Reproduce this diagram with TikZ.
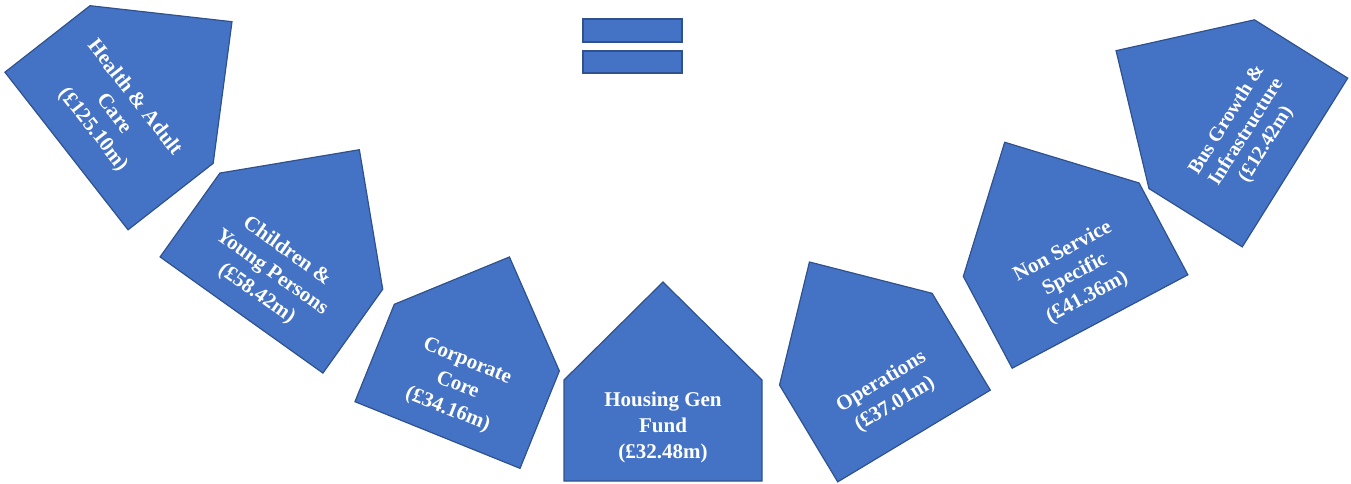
\documentclass[tikz,border=0pt]{standalone}
\usepackage{fontspec}
\setmainfont{Liberation Serif}
\usepackage{tikz}
\usetikzlibrary{positioning, calc}
\usepackage{xcolor}
\definecolor{houseblue}{HTML}{4472C4}
\definecolor{houseedge}{HTML}{2F528F}

\begin{document}
\begin{tikzpicture}[x=1pt, y=1pt,
    house/.style={fill=houseblue, draw=houseedge, line width=1.2pt, line join=miter},
    tag/.style={text=white, font=\bfseries\fontsize{21}{26}\selectfont, align=center, inner sep=0pt, transform shape}]
      \useasboundingbox (0, 0) rectangle (1351, 483);

      % equals sign
      \draw[house] (583, 441) rectangle (682, 464);
      \draw[house] (583, 410) rectangle (682, 432);

      % left side
      \begin{scope}[shift={(66.5, 332)}, rotate=-52]
        \draw[house] (-100, 0) -- (-100, 108) -- (0, 210) -- (100, 108) -- (100, 0) -- cycle;
        \node[tag] (health) at (0, 60) {Health \& Adult\\Care\\(£125.10m)};
      \end{scope}

      \begin{scope}[shift={(241.5, 168)}, rotate=-35.5]
        \draw[house] (-100, 0) -- (-100, 103) -- (0, 203) -- (100, 103) -- (100, 0) -- cycle;
        \node[tag] (children) at (0, 52) {Children \&\\Young Persons\\(£58.42m)};
      \end{scope}

      \begin{scope}[shift={(437.5, 48)}, rotate=-22]
        \draw[house] (-89, 0) -- (-89, 105) -- (0, 192) -- (89, 105) -- (89, 0) -- cycle;
        \node[tag] (corporate) at (0, 53) {Corporate\\Core\\(£34.16m)};
      \end{scope}

      % middle
      \begin{scope}[shift={(663, 2)}]
        \draw[house] (-99, 0) -- (-99, 101) -- (0, 199) -- (99, 101) -- (99, 0) -- cycle;
        \node[tag] (housing) at (0, 54) {Housing Gen\\Fund\\(£32.48m)};
      \end{scope}

      % right side
      \begin{scope}[shift={(914, 47)}, rotate=31]
        \draw[house] (-89, 0) -- (-89, 113) -- (0, 203) -- (89, 113) -- (89, 0) -- cycle;
        \node[tag] (operations) at (0, 50) {Operations\\(£37.01m)};
      \end{scope}

      \begin{scope}[shift={(1100, 161.5)}, rotate=28]
        \draw[house] (-99.5, 0) -- (-99.5, 104) -- (0, 203) -- (99.5, 104) -- (99.5, 0) -- cycle;
        \node[tag] (nonservice) at (0, 53) {Non Service\\Specific\\(£41.36m)};
      \end{scope}

      \begin{scope}[shift={(1295, 320.5)}, rotate=58]
        \draw[house] (-99.5, 0) -- (-99.5, 110) -- (0, 211) -- (99.5, 110) -- (99.5, 0) -- cycle;
        \node[tag, font=\bfseries\fontsize{20}{23}\selectfont] (bus) at (0, 57) {Bus Growth \&\\Infrastructure\\(£12.42m)};
      \end{scope}

    \end{tikzpicture}
\end{document}
